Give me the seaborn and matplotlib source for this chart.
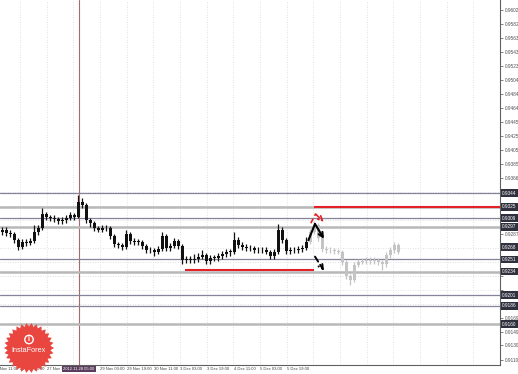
import numpy as np
import pandas as pd
import matplotlib
matplotlib.use("Agg")
import matplotlib.pyplot as plt
import matplotlib.transforms as mtransforms
from matplotlib.patches import Polygon, Circle
import seaborn as sns

# ---------------- data ----------------
open_first_hist = 0.9290
closes_hist = [0.9293, 0.9288, 0.9287, 0.9278, 0.9269, 0.9276, 0.9274, 0.9277, 0.9290, 0.9295,
               0.9315, 0.9311, 0.9309, 0.9308, 0.9305, 0.9307, 0.9309, 0.9314, 0.9311, 0.9332,
               0.9328, 0.9307, 0.9302, 0.9295, 0.9293, 0.9295, 0.9295, 0.9284, 0.9273, 0.9271,
               0.9269, 0.9287, 0.9277, 0.9276, 0.9276, 0.9270, 0.9264, 0.9264, 0.9262, 0.9266,
               0.9284, 0.9267, 0.9270, 0.9277, 0.9270, 0.9250, 0.9252, 0.9250, 0.9252, 0.9255,
               0.9257, 0.9249, 0.9253, 0.9253, 0.9256, 0.9259, 0.9262, 0.9262, 0.9278, 0.9271,
               0.9269, 0.9267, 0.9267, 0.9264, 0.9264, 0.9264, 0.9262, 0.9256, 0.9262, 0.9293,
               0.9278, 0.9263, 0.9264, 0.9264, 0.9266, 0.9267, 0.9276]
highs_hist = [0.9297, 0.9296, 0.9292, 0.9290, 0.9281, 0.9280, 0.9280, 0.9281, 0.9300, 0.9299,
              0.9323, 0.9318, 0.9314, 0.9313, 0.9311, 0.9311, 0.9313, 0.9318, 0.9317, 0.9342,
              0.9338, 0.9331, 0.9310, 0.9305, 0.9298, 0.9299, 0.9300, 0.9298, 0.9287, 0.9276,
              0.9274, 0.9293, 0.9290, 0.9281, 0.9280, 0.9279, 0.9273, 0.9268, 0.9267, 0.9270,
              0.9290, 0.9287, 0.9274, 0.9281, 0.9280, 0.9273, 0.9256, 0.9256, 0.9258, 0.9260,
              0.9264, 0.9260, 0.9257, 0.9257, 0.9260, 0.9263, 0.9266, 0.9266, 0.9290, 0.9282,
              0.9275, 0.9273, 0.9271, 0.9270, 0.9268, 0.9268, 0.9268, 0.9265, 0.9266, 0.9301,
              0.9296, 0.9281, 0.9268, 0.9268, 0.9270, 0.9271, 0.9282]
lows_hist = [0.9286, 0.9284, 0.9282, 0.9274, 0.9264, 0.9266, 0.9270, 0.9271, 0.9274, 0.9285,
             0.9292, 0.9307, 0.9305, 0.9304, 0.9301, 0.9301, 0.9303, 0.9306, 0.9306, 0.9309,
             0.9324, 0.9303, 0.9297, 0.9291, 0.9289, 0.9289, 0.9291, 0.9280, 0.9269, 0.9267,
             0.9265, 0.9266, 0.9273, 0.9272, 0.9272, 0.9266, 0.9260, 0.9260, 0.9256, 0.9258,
             0.9263, 0.9263, 0.9263, 0.9267, 0.9266, 0.9245, 0.9246, 0.9246, 0.9246, 0.9248,
             0.9251, 0.9245, 0.9245, 0.9249, 0.9249, 0.9252, 0.9255, 0.9256, 0.9258, 0.9267,
             0.9265, 0.9263, 0.9263, 0.9260, 0.9260, 0.9260, 0.9258, 0.9252, 0.9252, 0.9258,
             0.9274, 0.9259, 0.9259, 0.9260, 0.9260, 0.9262, 0.9264]

closes_fut = [0.9290, 0.9300, 0.9281, 0.9266, 0.9264, 0.9264, 0.9263, 0.9262, 0.9247, 0.9228,
              0.9222, 0.9243, 0.9247, 0.9249, 0.9250, 0.9249, 0.9250, 0.9247, 0.9245, 0.9257,
              0.9264, 0.9271, 0.9262]
highs_fut = [0.9294, 0.9305, 0.9303, 0.9284, 0.9270, 0.9268, 0.9267, 0.9266, 0.9265, 0.9250,
             0.9231, 0.9247, 0.9251, 0.9253, 0.9254, 0.9254, 0.9254, 0.9253, 0.9250, 0.9261,
             0.9268, 0.9276, 0.9274]
lows_fut = [0.9273, 0.9287, 0.9277, 0.9262, 0.9260, 0.9260, 0.9259, 0.9258, 0.9243, 0.9224,
            0.9215, 0.9219, 0.9240, 0.9244, 0.9245, 0.9245, 0.9245, 0.9243, 0.9236, 0.9241,
            0.9253, 0.9260, 0.9258]

price_tick_labels = ["0.9602", "0.9582", "0.9563", "0.9543", "0.9523", "0.9504", "0.9484",
                     "0.9464", "0.9445", "0.9425", "0.9405", "0.9385", "0.9366", "0.9346",
                     "0.9326", "0.9307", "0.9287", "0.9267", "0.9248", "0.9228", "0.9208",
                     "0.9189", "0.9169", "0.9149", "0.9130", "0.9110"]
time_tick_labels = ["26 Nov 11:00", "27 Nov 03:00", "27 Nov 19:00", "28 Nov 11:00",
                    "29 Nov 03:00", "29 Nov 19:00", "30 Nov 11:00", "3 Dec 03:00",
                    "3 Dec 19:00", "4 Dec 11:00", "5 Dec 03:00", "5 Dec 19:00"]
highlight_time_label = "2012.11.28 05:00"
highlight_time_idx = 19.25

# horizontal levels
thin_levels = [0.9344, 0.9309, 0.9251, 0.9201, 0.9186]
thick_levels = [0.9325, 0.9297, 0.9234, 0.9160]
current_price = 0.9268
red_upper = (78.1, 0.9325)
red_lower = (45.75, 78.1, 0.9236)

# forecast arrows (candle index, price)
red_dash_x = [77.2, 78.4, 80.4]
red_dash_y = [0.9302, 0.9315, 0.9304]
black_solid_x = [76.6, 78.25, 80.5]
black_solid_y = [0.9278, 0.9301, 0.9280]
black_dash_x = [78.25, 80.5]
black_dash_y = [0.9255, 0.9235]

# ---------------- style ----------------
sns.set_theme(style="white")
plt.rcParams['font.family'] = ['Liberation Sans', 'DejaVu Sans']

W, H = 518, 374
fig = plt.figure(figsize=(W / 100, H / 100), dpi=100)
fig.patch.set_facecolor("white")
ax = fig.add_axes([0, 9 / H, 500 / W, 365 / H])
ax.set_facecolor("white")

# ---------------- candles ----------------
hist = pd.DataFrame({"idx": np.arange(len(closes_hist)), "close": closes_hist,
                     "high": highs_hist, "low": lows_hist})
hist["open"] = [open_first_hist] + closes_hist[:-1]
fut = pd.DataFrame({"idx": len(closes_hist) + np.arange(len(closes_fut)), "close": closes_fut,
                    "high": highs_fut, "low": lows_fut})
fut["open"] = [closes_hist[-1]] + closes_fut[:-1]
for df in (hist, fut):
    df["bottom"] = df[["open", "close"]].min(axis=1)
    df["body"] = (df["close"] - df["open"]).abs().clip(lower=0.00008)

for df, col in ((hist, "#111111"), (fut, "#c4c4c4")):
    ax.vlines(df["idx"], df["low"], df["high"], color=col, lw=0.9, zorder=3)
    sns.barplot(data=df, x="idx", y="body", bottom=df["bottom"].values, native_scale=True,
                width=0.75, color=col, saturation=1, errorbar=None, linewidth=0,
                ax=ax, zorder=3)

# ---------------- axes ----------------
ymax = 0.9602 + 10 * 0.0001407
ymin = 0.9602 - 355 * 0.0001407
xmin, xmax = -0.5, 124.5

tick_prices = [float(s) for s in price_tick_labels]
boxed = sorted(thin_levels + thick_levels + [current_price])
shown_ticks = [(p, s) for p, s in zip(tick_prices, price_tick_labels)
               if min(abs(p - b) for b in boxed) > 0.0007]
ax.yaxis.tick_right()
ax.set_yticks([p for p, _ in shown_ticks])
ax.set_yticklabels([s for _, s in shown_ticks], fontsize=3.4, color="#404040")
ax.set_yticks(tick_prices, minor=True)
ax.tick_params(axis="y", which="both", length=2, width=0.5, pad=1.5, colors="#505050")
ax.set_ylabel("")
ax.set_xlabel("")

step = 6.667
grid_x = [-2.17 + step * k for k in range(20)]
ax.set_xticks(grid_x)
ax.set_xticklabels([])
ax.tick_params(axis="x", length=0)
ax.grid(True, which="major", axis="x", color="#d6d6d6", linestyle=(0, (1, 2)), lw=0.6, zorder=0)
ax.grid(True, which="minor", axis="y", color="#d6d6d6", linestyle=(0, (1, 2)), lw=0.6, zorder=0)
ax.set_axisbelow(True)
ax.set_xlim(xmin, xmax)
ax.set_ylim(ymin, ymax)

for s in ("top", "left"):
    ax.spines[s].set_visible(False)
for s in ("right", "bottom"):
    ax.spines[s].set_color("#606060")
    ax.spines[s].set_linewidth(0.8)

xtrans = ax.get_xaxis_transform()
for i, lab in enumerate(time_tick_labels):
    if abs(grid_x[i] - highlight_time_idx) < 3:
        continue  # hidden under the highlighted time box
    ax.text(grid_x[i] + 0.1, -0.006, lab, transform=xtrans, ha="left", va="top",
            fontsize=3.0, color="#404040", clip_on=False)
ax.text(highlight_time_idx, -0.006, highlight_time_label, transform=xtrans, ha="center",
        va="top", fontsize=3.0, color="white", clip_on=False, zorder=12,
        bbox=dict(boxstyle="square,pad=0.3", fc="#5a3d5c", ec="none"))

# vertical marker line
ax.axvline(highlight_time_idx, color="#a86a6a", lw=0.8, zorder=2)

# ---------------- levels ----------------
for p in thin_levels:
    ax.axhline(p, color="#84849a", lw=0.9, zorder=2)
for p in thick_levels:
    ax.axhline(p, color="#b8b8b8", lw=1.8, zorder=2)
ax.hlines(red_upper[1], red_upper[0], xmax, color="#e32228", lw=1.5, zorder=4)
ax.hlines(red_lower[2], red_lower[0], red_lower[1], color="#e32228", lw=1.5, zorder=4)

ytrans = mtransforms.blended_transform_factory(ax.transAxes, ax.transData)
for p in boxed:
    ax.text(1.004, p, f"{p:.4f}", transform=ytrans, ha="left", va="center",
            fontsize=3.4, color="white", clip_on=False, zorder=12,
            bbox=dict(boxstyle="square,pad=0.3", fc="#30303e", ec="none"))

# ---------------- forecast arrows ----------------
def draw_arrow(xs, ys, color, ls, lw):
    if len(xs) > 2:
        ax.plot(xs[:-1], ys[:-1], color=color, ls=ls, lw=lw, zorder=6)
    ax.annotate("", xy=(xs[-1], ys[-1]), xytext=(xs[-2], ys[-2]),
                arrowprops=dict(arrowstyle="->", color=color, lw=lw, ls=ls,
                                shrinkA=0, shrinkB=0, mutation_scale=8), zorder=6)

draw_arrow(red_dash_x, red_dash_y, "#e32228", (0, (3, 2)), 1.2)
draw_arrow(black_solid_x, black_solid_y, "black", "-", 1.5)
draw_arrow(black_dash_x, black_dash_y, "black", (0, (3, 2)), 1.4)

# ---------------- logo overlay ----------------
ov = fig.add_axes([0, 0, 1, 1], zorder=20)
ov.set_xlim(0, W)
ov.set_ylim(H, 0)
ov.axis("off")
ov.patch.set_alpha(0)
cx, cy = 29, 348
n = 30
ang = np.linspace(0, 2 * np.pi, 2 * n, endpoint=False)
rad = np.where(np.arange(2 * n) % 2 == 0, 25, 21.5)
pts = np.column_stack([cx + rad * np.cos(ang), cy + rad * np.sin(ang)])
ov.add_patch(Polygon(pts, closed=True, fc="#e8463f", ec="none"))
ov.add_patch(Circle((cx, cy - 8.5), 4.2, fc="none", ec="white", lw=1.0))
ov.text(cx, cy - 8.5, "i", ha="center", va="center", fontsize=5, color="white",
        fontweight="bold")
ov.text(cx, cy + 2.5, "InstaForex", ha="center", va="center", fontsize=5.2, color="white")

fig.savefig("out.png", dpi=100)
